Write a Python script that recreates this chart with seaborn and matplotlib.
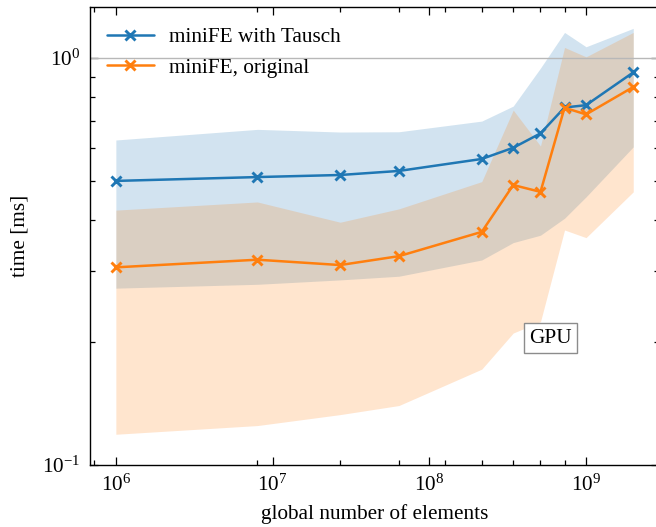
import numpy as np
import pandas as pd
import matplotlib
matplotlib.use("Agg")
import matplotlib.pyplot as plt
import matplotlib.ticker as mticker
import seaborn as sns

# ---- data ----
n_elements = [1e6, 8e6, 2.7e7, 6.4e7, 2.16e8, 3.43e8, 5.12e8, 7.29e8, 1e9, 2e9]

tausch_mean = [0.499, 0.510, 0.516, 0.528, 0.565, 0.602, 0.653, 0.756, 0.766, 0.922]
tausch_low = [0.272, 0.278, 0.285, 0.291, 0.319, 0.352, 0.367, 0.404, 0.456, 0.605]
tausch_high = [0.629, 0.668, 0.658, 0.659, 0.700, 0.762, 0.945, 1.156, 1.066, 1.183]

orig_mean = [0.306, 0.3195, 0.310, 0.326, 0.374, 0.4875, 0.469, 0.755, 0.727, 0.849]
orig_low = [0.119, 0.125, 0.133, 0.140, 0.172, 0.211, 0.225, 0.378, 0.362, 0.469]
orig_high = [0.423, 0.443, 0.395, 0.426, 0.497, 0.745, 0.608, 1.062, 1.007, 1.156]

labels = ["miniFE with Tausch", "miniFE, original"]
x_major_ticks = [1e6, 1e7, 1e8, 1e9]
x_minor_ticks = [7.29e5, 8e6, 2.7e7, 6.4e7, 1.25e8, 2.16e8, 3.43e8, 5.12e8, 7.29e8]

df = pd.DataFrame({
    "n": n_elements * 2,
    "time": tausch_mean + orig_mean,
    "variant": [labels[0]] * len(n_elements) + [labels[1]] * len(n_elements),
})

# ---- style ----
sns.set_style("ticks")
plt.rcParams["font.family"] = ["Liberation Serif", "DejaVu Serif"]
plt.rcParams["mathtext.fontset"] = "stix"
plt.rcParams["font.size"] = 15
for k in ["text.color", "axes.labelcolor", "xtick.color", "ytick.color", "axes.edgecolor"]:
    plt.rcParams[k] = "black"

FS = 15.3
c_blue = "#1f77b4"
c_orange = "#ff7f0e"

fig = plt.figure(figsize=(6.56, 5.27), dpi=100)
ax = fig.add_axes([90 / 656, 1 - 465 / 527, (659 - 90) / 656, (465 - 7) / 527])

ax.fill_between(n_elements, tausch_low, tausch_high, color=c_blue, alpha=0.2, lw=0)
ax.fill_between(n_elements, orig_low, orig_high, color=c_orange, alpha=0.2, lw=0)
ax.axhline(1.0, color="0.72", lw=1.0, zorder=1.5)

sns.lineplot(data=df[df.variant == labels[0]], x="n", y="time", ax=ax, color=c_blue,
             marker="x", markersize=7, mec=c_blue, mew=2.1, lw=1.8, label=labels[0])
sns.lineplot(data=df[df.variant == labels[1]], x="n", y="time", ax=ax, color=c_orange,
             marker="x", markersize=7, mec=c_orange, mew=2.1, lw=1.8, label=labels[1])

ax.set_xscale("log")
ax.set_yscale("log")
ax.set_xlim(6.84e5, 2.92e9)
ax.set_ylim(0.1, 1.335)

ax.xaxis.set_major_locator(mticker.FixedLocator(x_major_ticks))
ax.xaxis.set_minor_locator(mticker.FixedLocator(x_minor_ticks))
ax.xaxis.set_minor_formatter(mticker.NullFormatter())
ax.yaxis.set_major_locator(mticker.LogLocator(base=10))
ax.yaxis.set_minor_locator(mticker.LogLocator(base=10, subs=np.arange(2, 10)))
ax.yaxis.set_minor_formatter(mticker.NullFormatter())

ax.tick_params(which="both", direction="in", top=True, right=True, width=0.9, labelsize=FS)
ax.tick_params(which="major", length=6, pad=7)
ax.tick_params(which="minor", length=3.5)
for s in ax.spines.values():
    s.set_linewidth(1.0)

ax.set_xlabel("global number of elements", fontsize=FS, labelpad=6)
ax.set_ylabel("time [ms]", fontsize=FS, labelpad=9)

ax.legend(loc="upper left", frameon=False, fontsize=FS, handlelength=2.2,
          borderaxespad=0.55, labelspacing=0.5, handletextpad=0.75,
          bbox_to_anchor=(-0.006, 1.0))

ax.text(5.9e8, 0.205, "GPU", ha="center", va="center", fontsize=FS,
        bbox=dict(boxstyle="square,pad=0.25", facecolor="white", edgecolor="0.55", lw=1))

fig.savefig("out.png", dpi=100)
